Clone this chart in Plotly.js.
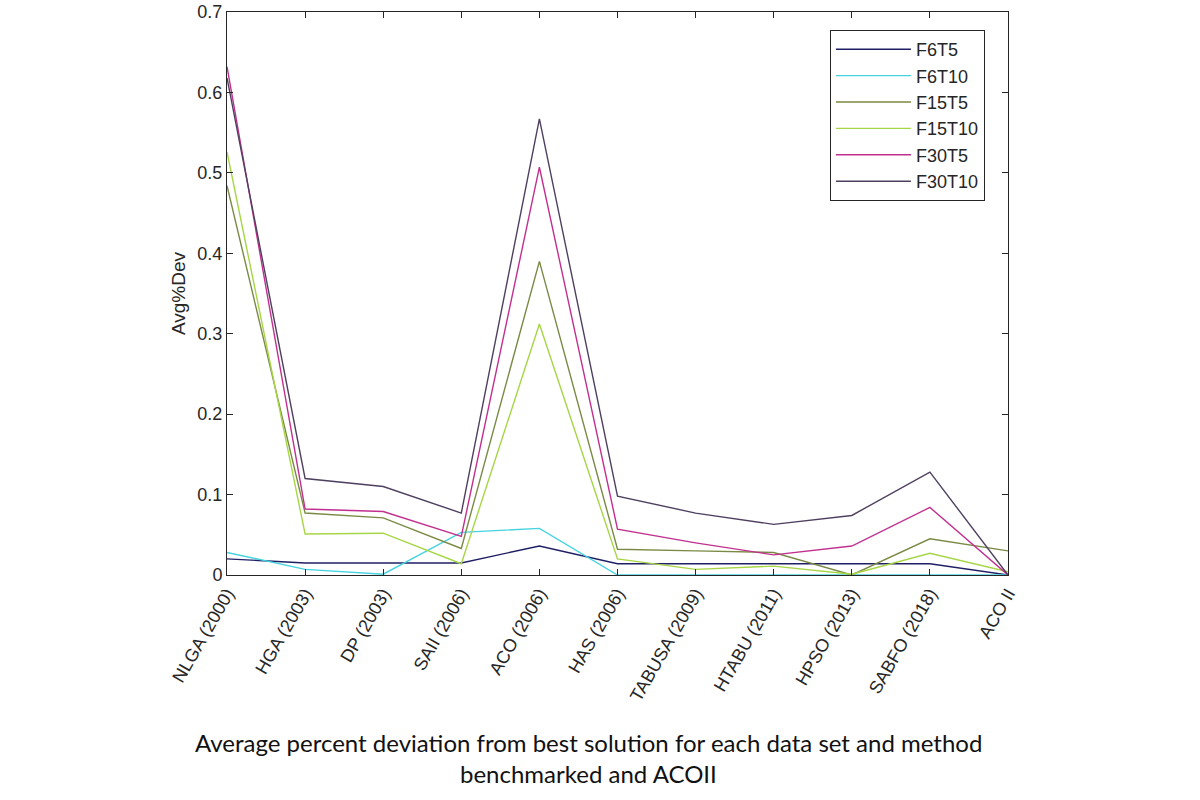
<!DOCTYPE html>
<html>
<head>
<meta charset="utf-8">
<script src="https://cdn.plot.ly/plotly-3.0.1.min.js"></script>
<style>
html,body{margin:0;padding:0;background:#fff;}
#chart{width:1200px;height:800px;}
</style>
</head>
<body>
<div id="chart"></div>
<script>
const methods = ["NLGA (2000)", "HGA (2003)", "DP (2003)", "SAII (2006)", "ACO (2006)", "HAS (2006)", "TABUSA (2009)", "HTABU (2011)", "HPSO (2013)", "SABFO (2018)", "ACO II"];
const seriesNames = ["F6T5", "F6T10", "F15T5", "F15T10", "F30T5", "F30T10"];
const F6T5   = [0.020, 0.015, 0.015, 0.015, 0.036, 0.014, 0.014, 0.014, 0.014, 0.014, 0.000];
const F6T10  = [0.028, 0.007, 0.001, 0.053, 0.058, 0.000, 0.000, 0.000, 0.000, 0.000, 0.000];
const F15T5  = [0.484, 0.077, 0.071, 0.033, 0.390, 0.032, 0.030, 0.028, 0.000, 0.045, 0.030];
const F15T10 = [0.526, 0.051, 0.052, 0.014, 0.312, 0.020, 0.007, 0.011, 0.001, 0.027, 0.004];
const F30T5  = [0.632, 0.082, 0.079, 0.048, 0.507, 0.057, 0.040, 0.025, 0.036, 0.084, 0.000];
const F30T10 = [0.618, 0.120, 0.110, 0.077, 0.567, 0.098, 0.077, 0.063, 0.074, 0.128, 0.000];
const seriesValues = [F6T5, F6T10, F15T5, F15T10, F30T5, F30T10];
const colors = ["#1f1f66", "#45d3e0", "#7a8a45", "#a6d645", "#c2308f", "#4f4060"];
const captionLines = ["Average percent deviation from best solution for each data set and method", "benchmarked and ACOII"];

const traces = seriesNames.map((n, i) => ({
  type: "scatter",
  mode: "lines",
  name: n,
  x: methods,
  y: seriesValues[i],
  line: {color: colors[i], width: 1.4},
}));

const FONT = "Liberation Sans, Arial, sans-serif";
const axisCommon = {
  showline: true, mirror: "ticks", linecolor: "#262626", linewidth: 1,
  ticks: "inside", ticklen: 6, tickcolor: "#262626",
  showgrid: false, zeroline: false,
  tickfont: {family: FONT, size: 18, color: "#262626"}
};

const layout = {
  width: 1200, height: 800,
  paper_bgcolor: "#ffffff", plot_bgcolor: "#ffffff",
  margin: {l: 227, r: 192, t: 12, b: 225},
  showlegend: true,
  legend: {
    x: 0.772, y: 0.968, xanchor: "left", yanchor: "top",
    bgcolor: "#ffffff", bordercolor: "#262626", borderwidth: 1,
    font: {family: FONT, size: 18, color: "#262626"},
    itemwidth: 75, tracegroupgap: 0
  },
  xaxis: Object.assign({}, axisCommon, {
    type: "category", range: [0, methods.length - 1], tickangle: -60
  }),
  yaxis: Object.assign({}, axisCommon, {
    range: [0, 0.7], dtick: 0.1, tickformat: ".1~f",
    title: {text: "Avg%Dev", font: {family: FONT, size: 19, color: "#262626"}, standoff: 6}
  }),
  annotations: captionLines.map((t, i) => ({
    xref: "paper", yref: "paper", x: 0.463, y: -0.297 - i * 0.055,
    xanchor: "center", yanchor: "middle", showarrow: false,
    text: t, font: {family: "Lato, sans-serif", size: 24, color: "#111"}
  }))
};

Plotly.newPlot("chart", traces, layout, {displayModeBar: false, staticPlot: true});
</script>
</body>
</html>
